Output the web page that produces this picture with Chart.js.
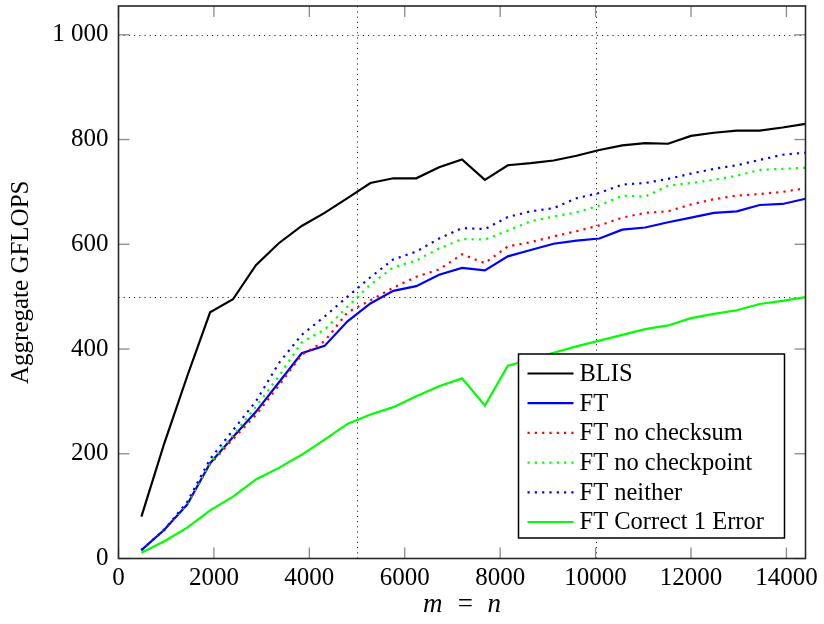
<!DOCTYPE html>
<html>
<head>
<meta charset="utf-8">
<script src="https://cdn.jsdelivr.net/npm/chart.js@4.4.1/dist/chart.umd.min.js"></script>
<style>
  html, body { margin: 0; padding: 0; background: #fff; }
  #wrap { width: 824px; height: 624px; }
</style>
</head>
<body>
<div id="wrap"><canvas id="chart" width="824" height="624"></canvas></div>
<script>
// Matrix size (m = n)
const sizes = [480, 960, 1440, 1920, 2400, 2880, 3360, 3840, 4320, 4800,
               5280, 5760, 6240, 6720, 7200, 7680, 8160, 8640, 9120, 9600,
               10080, 10560, 11040, 11520, 12000, 12480, 12960, 13440, 13920, 14400];

// Aggregate GFLOPS per variant
const blis = [80, 220, 348, 470, 495, 560, 602, 635, 660, 688,
              717, 726, 726, 747, 762, 723, 751, 755, 760, 769,
              780, 789, 793, 792, 807, 813, 817, 817, 823, 830];
const ft = [16, 55, 103, 182, 232, 280, 336, 392, 406, 453,
            487, 511, 520, 542, 555, 550, 577, 589, 601, 607,
            611, 628, 632, 642, 651, 660, 663, 675, 677, 687];
const ftNoChecksum = [16, 55, 104, 180, 228, 274, 330, 389, 415, 470,
                      493, 517, 538, 552, 581, 564, 596, 604, 615, 625,
                      636, 651, 660, 663, 676, 686, 693, 696, 700, 707];
const ftNoCheckpoint = [15, 55, 105, 183, 235, 290, 348, 413, 437, 481,
                        523, 556, 569, 592, 610, 609, 626, 644, 653, 661,
                        674, 693, 691, 712, 717, 723, 731, 742, 744, 746];
const ftNeither = [16, 55, 108, 190, 245, 300, 373, 427, 462, 500,
                   537, 571, 586, 611, 631, 629, 652, 663, 669, 688,
                   698, 714, 717, 725, 735, 744, 751, 761, 771, 775];
const ftCorrect1 = [11, 33, 59, 92, 118, 151, 173, 198, 227, 257,
                    275, 289, 310, 329, 344, 292, 368, 380, 393, 405,
                    416, 427, 438, 445, 459, 467, 474, 486, 492, 499];

const xTicks = [0, 2000, 4000, 6000, 8000, 10000, 12000, 14000];
const yTicks = [0, 200, 400, 600, 800, 1000];
const xGrid = [5000, 10000];
const yGrid = [500, 1000];

const FONT = '"Liberation Serif", "DejaVu Serif", serif';

function toPoints(vals) {
    return vals.map((v, i) => ({ x: sizes[i], y: v }));
}

const series = [
    { label: 'BLIS', data: blis, color: '#000000', dash: [] },
    { label: 'FT', data: ft, color: '#0000ff', dash: [] },
    { label: 'FT no checksum', data: ftNoChecksum, color: '#ff0000', dash: [2.2, 5.1] },
    { label: 'FT no checkpoint', data: ftNoCheckpoint, color: '#00ff00', dash: [2.2, 5.1] },
    { label: 'FT neither', data: ftNeither, color: '#0000ff', dash: [2.2, 5.1] },
    { label: 'FT Correct 1 Error', data: ftCorrect1, color: '#00ff00', dash: [] }
];

function line(ctx, x1, y1, x2, y2) {
    ctx.beginPath();
    ctx.moveTo(x1, y1);
    ctx.lineTo(x2, y2);
    ctx.stroke();
}

// pgfplots look: dotted grid, inner ticks, frame, legend inside
const pgfAxis = {
    id: 'pgfAxis',
    beforeDatasetsDraw(chart) {
        const { ctx, chartArea: a, scales: { x, y } } = chart;
        ctx.save();
        ctx.strokeStyle = '#000';
        ctx.lineWidth = 1;
        ctx.setLineDash([1, 4.2]);
        xGrid.forEach(v => {
            const px = Math.round(x.getPixelForValue(v)) + 0.5;
            line(ctx, px, a.bottom, px, a.top);
        });
        yGrid.forEach(v => {
            const py = Math.round(y.getPixelForValue(v)) + 0.5;
            line(ctx, a.left, py, a.right, py);
        });
        ctx.restore();
    },
    afterDatasetsDraw(chart) {
        const { ctx, chartArea: a, scales: { x, y } } = chart;
        const len = 11;
        ctx.save();
        ctx.strokeStyle = '#8a8a8a';
        ctx.lineWidth = 1.3;
        xTicks.forEach(v => {
            const px = x.getPixelForValue(v);
            line(ctx, px, a.bottom, px, a.bottom - len);
            line(ctx, px, a.top, px, a.top + len);
        });
        yTicks.forEach(v => {
            const py = y.getPixelForValue(v);
            line(ctx, a.left, py, a.left + len, py);
            line(ctx, a.right, py, a.right - len, py);
        });

        // frame
        ctx.strokeStyle = '#262626';
        ctx.lineWidth = 1.6;
        ctx.strokeRect(a.left, a.top, a.right - a.left, a.bottom - a.top);

        // legend
        const bw = 266, bh = 184;
        const bx = a.right - 21 - bw;
        const by = a.bottom - 20.5 - bh;
        ctx.fillStyle = '#fff';
        ctx.fillRect(bx, by, bw, bh);
        ctx.strokeStyle = '#000';
        ctx.lineWidth = 1.5;
        ctx.strokeRect(bx, by, bw, bh);
        ctx.font = '24.5px ' + FONT;
        ctx.textBaseline = 'middle';
        ctx.textAlign = 'left';
        chart.data.datasets.forEach((ds, i) => {
            const cy = by + 19.5 + i * 29.7;
            ctx.strokeStyle = ds.borderColor;
            ctx.lineWidth = ds.borderWidth;
            ctx.setLineDash(ds.borderDash);
            line(ctx, bx + 9, cy, bx + 55, cy);
            ctx.setLineDash([]);
            ctx.fillStyle = '#000';
            ctx.fillText(ds.label, bx + 61, cy + 1);
        });
        ctx.restore();
    }
};

const chart = new Chart(document.getElementById('chart').getContext('2d'), {
    type: 'line',
    data: {
        datasets: series.map((s, i) => ({
            label: s.label,
            data: toPoints(s.data),
            borderColor: s.color,
            backgroundColor: s.color,
            borderWidth: 2.2,
            borderDash: s.dash,
            pointRadius: 0,
            tension: 0,
            fill: false,
            order: series.length - i
        }))
    },
    options: {
        responsive: false,
        animation: false,
        devicePixelRatio: 1,
        layout: { padding: { top: 6, right: 18.5, left: 0, bottom: 0 } },
        plugins: {
            legend: { display: false },
            tooltip: { enabled: false }
        },
        scales: {
            x: {
                type: 'linear',
                min: 0,
                max: 14400,
                grid: { display: false, drawTicks: false },
                border: { display: false },
                afterBuildTicks: s => { s.ticks = xTicks.map(v => ({ value: v })); },
                afterFit: s => { s.height = 65.5; s.paddingLeft = 0; s.paddingRight = 0; },
                ticks: {
                    autoSkip: false,
                    maxRotation: 0,
                    padding: 5,
                    color: '#000',
                    font: { family: FONT, size: 25 },
                    callback: v => String(v)
                },
                title: {
                    display: true,
                    text: 'm\u2002=\u2002n',
                    color: '#000',
                    padding: { top: 0, bottom: 3 },
                    font: { family: FONT, size: 27, style: 'italic' }
                }
            },
            y: {
                type: 'linear',
                min: 0,
                max: 1055,
                grid: { display: false, drawTicks: false },
                border: { display: false },
                afterBuildTicks: s => { s.ticks = yTicks.map(v => ({ value: v })); },
                afterFit: s => { s.width = 118.5; s.paddingTop = 0; s.paddingBottom = 0; },
                ticks: {
                    autoSkip: false,
                    padding: 10,
                    color: '#000',
                    font: { family: FONT, size: 25 },
                    callback: v => v >= 1000 ? '1 000' : String(v)
                },
                title: {
                    display: true,
                    text: 'Aggregate GFLOPS',
                    color: '#000',
                    padding: { top: 6, bottom: 0 },
                    font: { family: FONT, size: 25 }
                }
            }
        }
    },
    plugins: [pgfAxis]
});
</script>
</body>
</html>
